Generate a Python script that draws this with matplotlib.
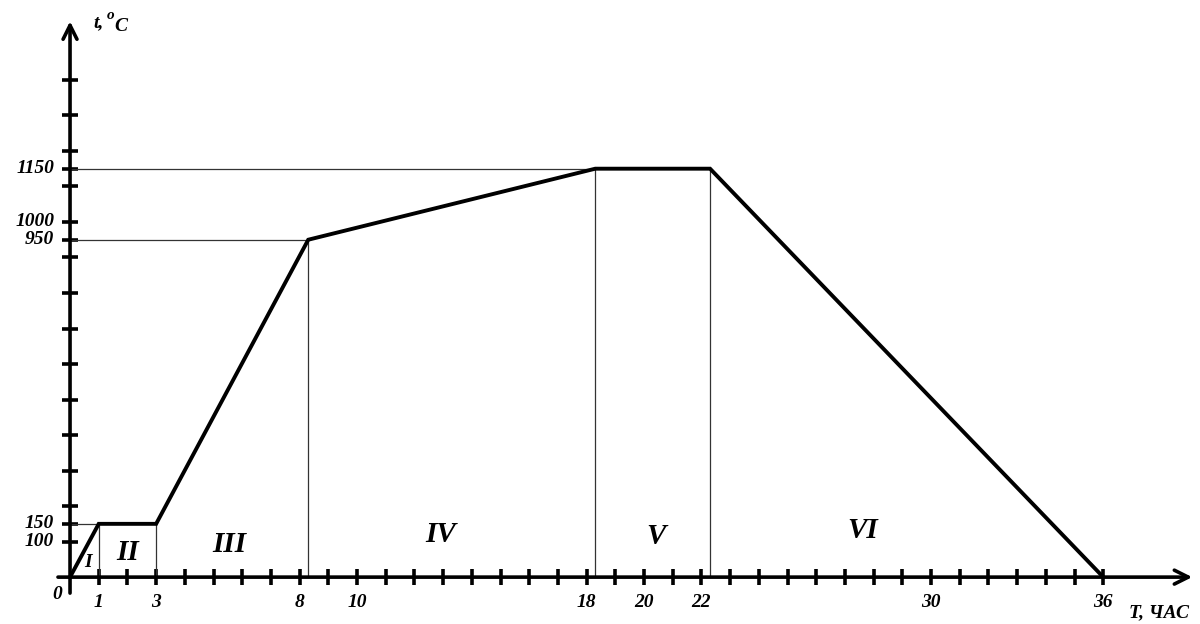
import matplotlib.pyplot as plt

# режим нагрева / охлаждения
time_h = [0, 1, 3, 8.3, 18.3, 22.3, 36]
temp_c = [0, 150, 150, 950, 1150, 1150, 0]

stages = ["I", "II", "III", "IV", "V", "VI"]

x_ticks = list(range(1, 37))
x_labels = [1, 3, 8, 10, 18, 20, 22, 30, 36]
y_ticks = list(range(100, 1500, 100)) + [150, 950, 1150]
y_labels = [100, 150, 950, 1000, 1150]

FONT = "Liberation Serif"

fig = plt.figure(figsize=(12, 6.24), dpi=100)
ax = fig.add_axes([0, 0, 1, 1])
ax.set_xlim(-2.44, 39.37)
ax.set_ylim(-132, 1625)
ax.axis("off")

# оси со стрелками
arrow = dict(arrowstyle="->,head_length=1.0,head_width=0.5", lw=2.6, color="black",
             shrinkA=0, shrinkB=0)
ax.annotate("", xy=(39.1, 0), xytext=(-0.42, 0), arrowprops=arrow)
ax.annotate("", xy=(0, 1565), xytext=(0, -45), arrowprops=arrow)

# деления
ax.plot(x_ticks, [0] * len(x_ticks), "|", color="black", ms=11, mew=2.6)
ax.plot([0] * len(y_ticks), y_ticks, "_", color="black", ms=12, mew=2.6)

# вспомогательные линии
seen = set()
for x, y in zip(time_h[1:-1], temp_c[1:-1]):
    ax.plot([x, x], [0, y], color="#333333", lw=0.9)
    if y not in seen:
        ax.plot([0, x], [y, y], color="#333333", lw=0.9)
        seen.add(y)

# график
ax.plot(time_h, temp_c, color="black", lw=2.8, solid_joinstyle="miter")

tick_font = dict(family=FONT, style="italic", weight="bold", fontsize=14)
for v in x_labels:
    ax.text(v, -72, str(v), ha="center", va="center", **tick_font)
ax.text(-0.45, -50, "0", ha="center", va="center", **tick_font)
for v in y_labels:
    ax.text(-0.55, v, str(v), ha="right", va="center", **tick_font)

# подписи стадий
stage_pos = [(0.63, 42), (2.0, 68), (5.55, 93), (12.9, 120), (20.4, 115), (27.6, 130)]
for name, (x, y) in zip(stages, stage_pos):
    ax.text(x, y, name, ha="center", va="center", family=FONT, style="italic",
            weight="bold", fontsize=14 if name == "I" else 21)

# подписи осей
ax.text(0.8, 1560, "t,", ha="left", va="center", family=FONT, style="italic",
        weight="bold", fontsize=14)
ax.text(1.28, 1582, "o", ha="left", va="center", family=FONT, style="italic",
        weight="bold", fontsize=11)
ax.text(1.55, 1550, "C", ha="left", va="center", family=FONT, style="italic",
        weight="bold", fontsize=14)
ax.text(39.0, -100, "T, ЧАС", ha="right", va="center", family=FONT, style="italic",
        weight="bold", fontsize=14)

fig.savefig("out.png", dpi=100, facecolor="white")
